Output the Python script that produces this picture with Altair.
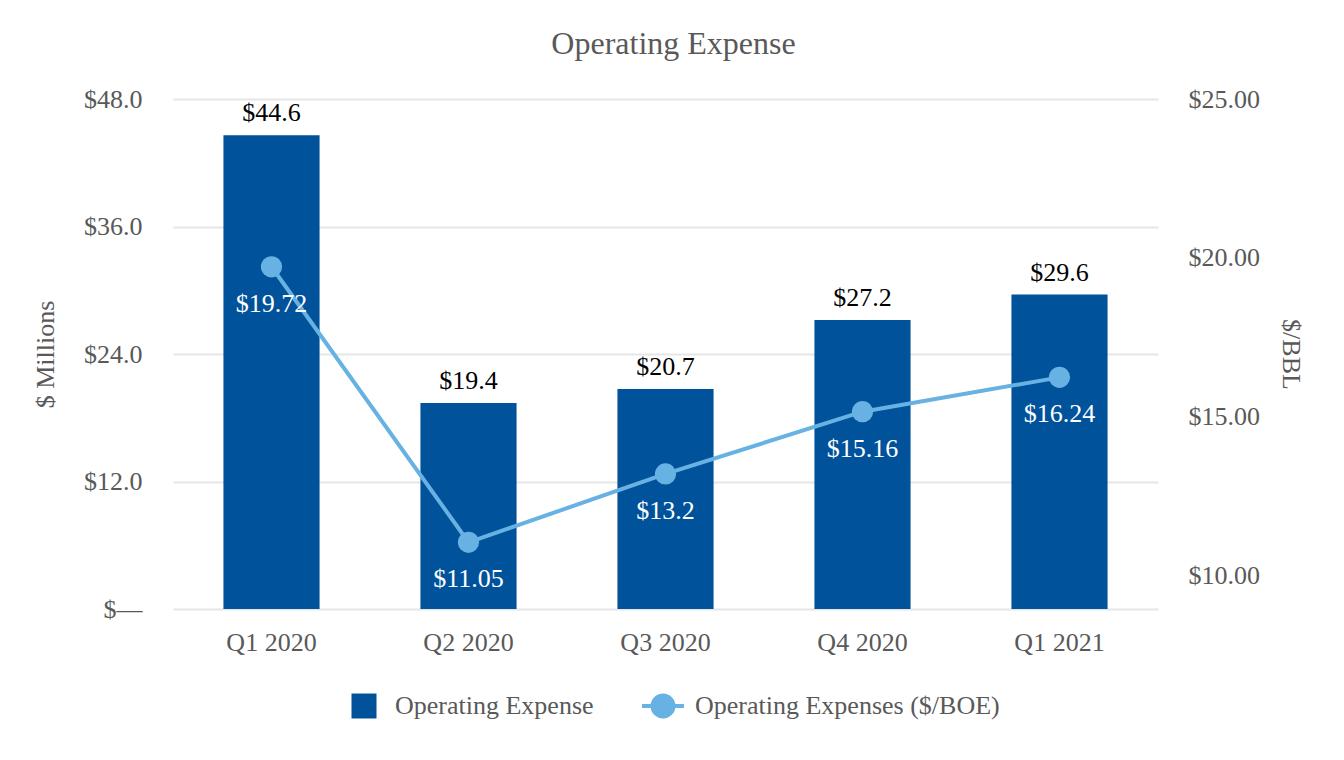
import altair as alt
import pandas as pd

quarters = ["Q1 2020", "Q2 2020", "Q3 2020", "Q4 2020", "Q1 2021"]
opex_millions = [44.6, 19.4, 20.7, 27.2, 29.6]
opex_per_boe = [19.72, 11.05, 13.2, 15.16, 16.24]
left_ticks = [0, 12, 24, 36, 48]
right_ticks = [10, 15, 20, 25]
bar_series = "Operating Expense"
line_series = "Operating Expenses ($/BOE)"

df = pd.DataFrame({"quarter": quarters, "opex": opex_millions, "boe": opex_per_boe,
                   "bar_series": [bar_series] * len(quarters),
                   "line_series": [line_series] * len(quarters)})

FONT = "Liberation Serif"
BAR = "#00529B"
LINE = "#67B1E3"
GRAY = "#595959"
FS = 26

x = alt.X(
    "quarter:N", sort=quarters, title=None,
    scale=alt.Scale(paddingInner=0.512, paddingOuter=0.256),
    axis=alt.Axis(labelAngle=0, labelFont=FONT, labelFontSize=FS, labelColor=GRAY,
                  labelPadding=20, domain=False, ticks=False),
)

y_left = alt.Y(
    "opex:Q",
    scale=alt.Scale(domain=[0, 48], nice=False),
    axis=alt.Axis(values=left_ticks,
                  labelExpr="datum.value == 0 ? '$—' : '$' + format(datum.value, '.1f')",
                  title="$ Millions", titleFont=FONT, titleFontSize=FS, titleColor=GRAY,
                  titleFontWeight="normal", titleAngle=-90, titleX=-128, titleY=255,
                  titleAlign="center", titleBaseline="middle",
                  labelFont=FONT, labelFontSize=FS, labelColor=GRAY, labelPadding=31,
                  grid=True, gridColor="#E6E6E6", gridWidth=2, domain=False, ticks=False),
)

y_right = alt.Y(
    "boe:Q",
    scale=alt.Scale(domain=[8.95, 25.0], nice=False, zero=False),
    axis=alt.Axis(orient="right", values=right_ticks, format="$.2f",
                  title="$/BBL", titleFont=FONT, titleFontSize=FS, titleColor=GRAY,
                  titleFontWeight="normal", titleAngle=90, titleX=132, titleY=255,
                  titleAlign="center", titleBaseline="middle",
                  labelFont=FONT, labelFontSize=FS, labelColor=GRAY, labelPadding=30,
                  grid=False, domain=False, ticks=False),
)

base = alt.Chart(df)

bars = base.mark_bar().encode(
    x=x, y=y_left,
    fill=alt.Fill("bar_series:N",
                  scale=alt.Scale(domain=[bar_series], range=[BAR]),
                  legend=alt.Legend(title=None, orient="none", legendX=178, legendY=594,
                                    symbolType="square", symbolSize=625, symbolStrokeWidth=0,
                                    labelFont=FONT, labelFontSize=FS, labelColor=GRAY,
                                    labelOffset=18, labelLimit=500)),
)

bar_text = base.mark_text(font=FONT, fontSize=FS, color="black", baseline="middle", dy=-22).encode(
    x=x, y=y_left, text=alt.Text("opex:Q", format="$.1f"),
)

left = alt.layer(bars, bar_text)

LINE_SYMBOL = "M-1,0H-0.5M0.5,0H1M-0.5,0A0.5,0.5,0,1,1,0.5,0A0.5,0.5,0,1,1,-0.5,0Z"

line = base.mark_line(strokeWidth=4).encode(
    x=x, y=y_right,
    stroke=alt.Stroke("line_series:N",
                      scale=alt.Scale(domain=[line_series], range=[LINE]),
                      legend=alt.Legend(title=None, orient="none", legendX=467, legendY=584,
                                        symbolType=LINE_SYMBOL, symbolSize=1764,
                                        symbolStrokeWidth=4, symbolFillColor=LINE,
                                        labelFont=FONT, labelFontSize=FS, labelColor=GRAY,
                                        labelOffset=9, labelLimit=500)),
)

points = base.mark_circle(size=450, opacity=1, color=LINE).encode(x=x, y=y_right)

line_text = base.transform_calculate(lbl="'$' + datum.boe").mark_text(
    font=FONT, fontSize=FS, color="white", baseline="middle", dy=37
).encode(x=x, y=y_right, text="lbl:N")

right = alt.layer(line, points, line_text)

chart = alt.layer(left, right).resolve_scale(y="independent").properties(
    width=985, height=510,
    title=alt.Title("Operating Expense", font=FONT, fontSize=32, color=GRAY,
                    fontWeight="normal", offset=25, dx=8),
    padding={"left": 165, "top": 91, "right": 178, "bottom": 143},
    autosize="none",
).configure_view(stroke=None).configure_text(font=FONT)

chart.save("out.html", embed_options={"renderer": "svg", "actions": False})
